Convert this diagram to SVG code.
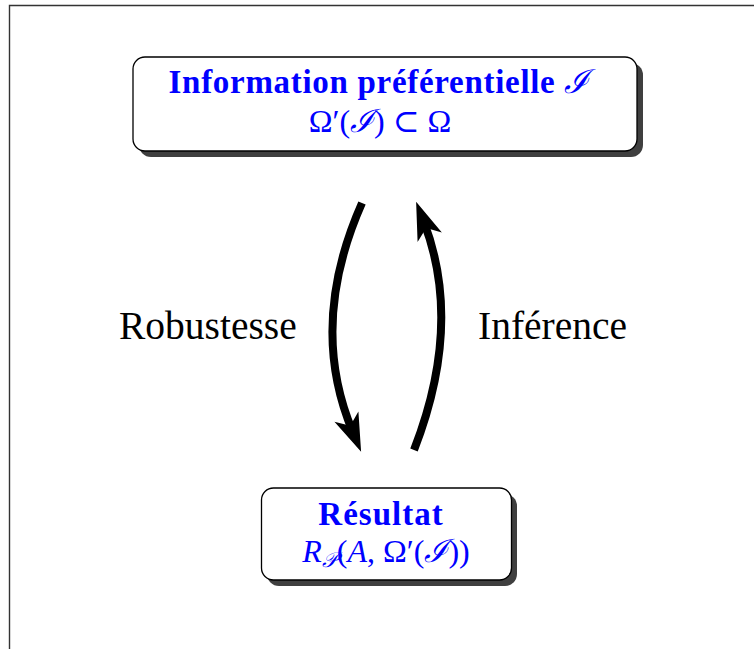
<svg xmlns="http://www.w3.org/2000/svg" width="754" height="649" viewBox="0 0 754 649">
<style>
.shadow{fill:#3f3f3f}
.box{fill:#fff;stroke:#000;stroke-width:1.3}
.t{font-family:"Liberation Serif","DejaVu Serif",serif;fill:#0000ff;text-anchor:middle}
.b{font-weight:bold}
.it{font-style:italic}
.lbl{font-family:"Liberation Serif","DejaVu Serif",serif;font-size:39.5px;fill:#000}
.arc{fill:none;stroke:#000;stroke-width:8;stroke-linecap:butt}
</style>
<defs>
<marker id="ah" markerUnits="userSpaceOnUse" viewBox="-20 -16 46 32" refX="0" refY="0" markerWidth="46" markerHeight="32" orient="auto" overflow="visible">
<path d="M-16,-13 L22,0 L-16,13 L-6,0 Z" fill="#000"/>
</marker>
</defs>
<rect width="754" height="649" fill="#fff"/>
<path d="M9.5,649 V5.5 H754" fill="none" stroke="#333" stroke-width="1.4"/>
<g id="connectors">
<path class="arc" d="M362,203 Q308,325 352.6,431.4" marker-end="url(#ah)"/>
<path class="arc" d="M414,450 Q463,324 424,222.3" marker-end="url(#ah)"/>
</g>
<g id="top">
<rect class="shadow" x="139" y="63" width="504" height="94" rx="12"/>
<rect class="box" x="133" y="57" width="504" height="94" rx="12"/>
<text class="t b" x="379" y="93" font-size="33" letter-spacing="0.7">Information préférentielle <tspan class="it" font-weight="normal" font-family="DejaVu Serif" letter-spacing="0">ℐ</tspan></text>
<text class="t" x="380" y="132" font-size="32">Ω′(<tspan class="it">ℐ</tspan>) ⊂ Ω</text>
</g>
<g id="bottom">
<rect class="shadow" x="267" y="494" width="250" height="92" rx="12"/>
<rect class="box" x="261.5" y="488" width="250" height="92" rx="12"/>
<text class="t b" x="381" y="525" font-size="33" letter-spacing="1">Résultat</text>
<text class="t" x="386" y="562" font-size="32"><tspan class="it">R</tspan><tspan class="it" font-size="21" dy="5">𝒫</tspan><tspan dy="-5">(</tspan><tspan class="it">A</tspan>, Ω′(<tspan class="it">ℐ</tspan>))</text>
</g>
<g id="labels">
<text class="lbl" x="119" y="339">Robustesse</text>
<text class="lbl" x="478" y="339">Inférence</text>
</g>
</svg>
